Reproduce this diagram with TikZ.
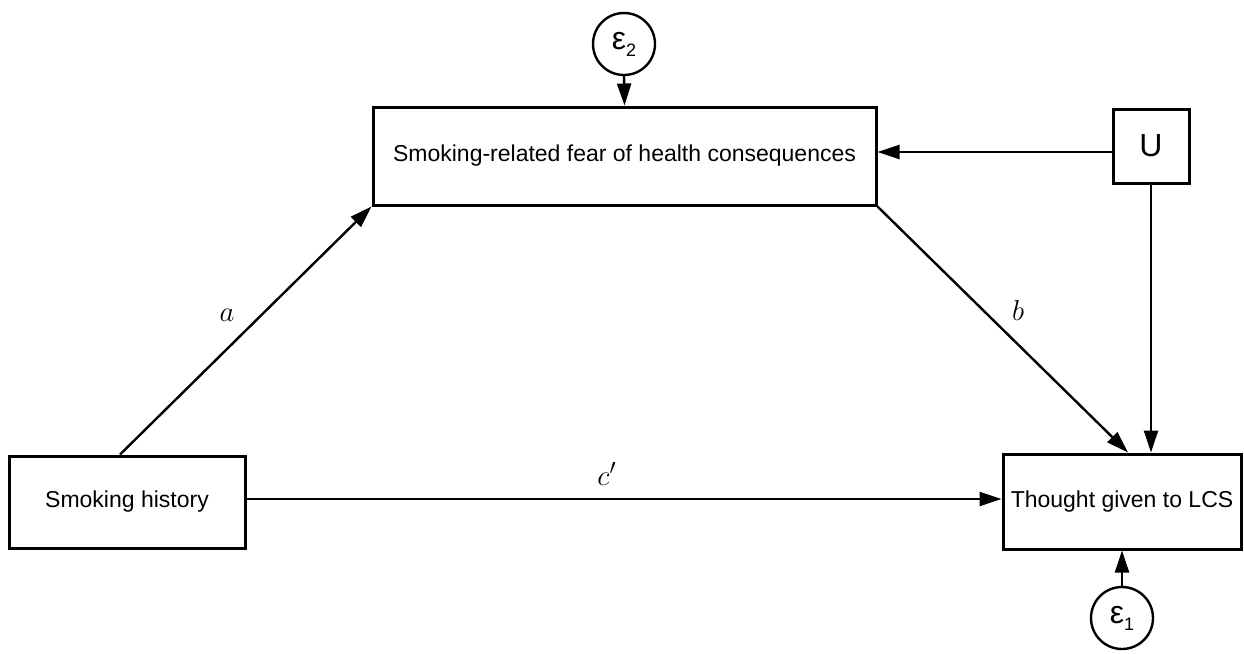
\documentclass[tikz,border=0pt]{standalone}
\usepackage{fontspec}
\setmainfont{Liberation Sans}
\usetikzlibrary{arrows.meta,calc}
\tikzset{
  box/.style={draw, line width=1.5pt, rectangle, inner sep=0pt, font=\fontsize{11.5}{13}\selectfont},
  err/.style={draw, line width=1.2pt, circle, inner sep=0pt, minimum size=31pt},
  conn/.style={line width=1.2pt, -{Triangle[length=11pt,width=7pt]}},
  lab/.style={font=\fontsize{15}{17}\selectfont, inner sep=0pt}
}
\newcommand{\epsub}[1]{{\fontsize{16}{16}\selectfont ε\raisebox{-3.5pt}{\fontsize{9}{9}\selectfont #1}}}
\begin{document}
\begin{tikzpicture}[x=0.5pt,y=-0.5pt]
\useasboundingbox (0,0) rectangle (1244,654);
\node[box, minimum width=118pt, minimum height=46pt] (sh) at (127,502) {Smoking history};
\node[box, minimum width=251.5pt, minimum height=49pt] (med) at (624.5,156) {Smoking-related fear of health consequences};
\node[box, minimum width=38pt, minimum height=37pt, font=\fontsize{16}{16}\selectfont] (u) at (1151,146) {U};
\node[box, minimum width=119pt, minimum height=47.5pt] (th) at (1122,501.5) {Thought given to LCS};
\node[err] (e2) at (624,44) {\epsub{2}};
\node[err] (e1) at (1122,618) {\epsub{1}};
\draw[conn] (e2.south) -- (med.north);
\draw[conn] (e1.north) -- (th.south);
\draw[conn] ([xshift=-3.5pt]sh.north) -- (med.south west);
\draw[conn] (med.south east) -- ([xshift=3pt]th.north);
\draw[conn] (u.south) -- (u.south |- th.north);
\draw[conn] ([yshift=-3pt]u.west) -- ([yshift=-3pt]u.west -| med.east);
\draw[conn] ([yshift=1.5pt]sh.east) -- ([yshift=1.5pt]sh.east -| th.west);
\node[lab] (la) at (227,315) {$a$};
\node[lab] (lb) at (1018,310) {$b$};
\node[lab] (lc) at (607,474) {$c'$};
\end{tikzpicture}
\end{document}
